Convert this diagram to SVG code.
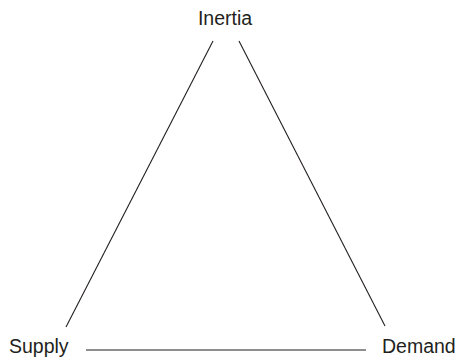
<svg xmlns="http://www.w3.org/2000/svg" width="462" height="358" viewBox="0 0 462 358">
<style>
text{font-family:"Liberation Sans",Arial,sans-serif;font-size:19.5px;fill:#231f20}
.c line{stroke:#231f20;stroke-width:1.1}
</style>
<rect width="462" height="358" fill="#fff"/>
<g id="inertia"><text x="225" y="25" text-anchor="middle">Inertia</text></g>
<g id="supply"><text x="9" y="353">Supply</text></g>
<g id="demand"><text x="382" y="353">Demand</text></g>
<g class="c" id="connectors">
<line x1="213" y1="41" x2="66" y2="327"/>
<line x1="239" y1="41" x2="385" y2="326"/>
<line x1="86" y1="350" x2="366" y2="350"/>
</g>
</svg>
